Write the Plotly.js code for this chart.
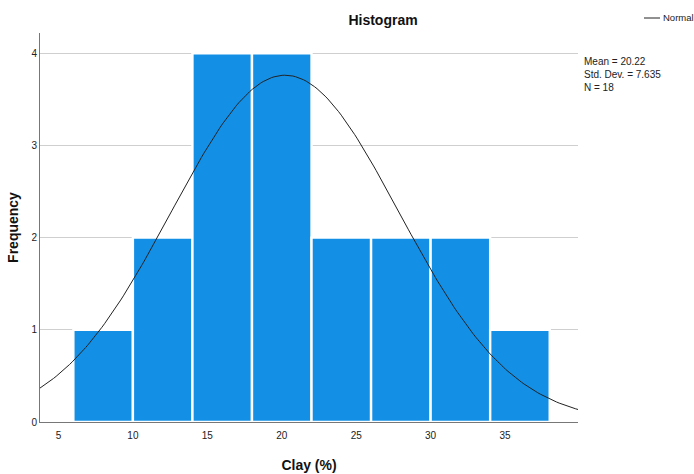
<!DOCTYPE html>
<html><head><meta charset="utf-8">
<script src="https://cdn.plot.ly/plotly-3.0.1.min.js"></script>
<style>body{margin:0;padding:0;background:#fff}#chart{width:694px;height:474px}</style>
</head><body><div id="chart"></div>
<script>
// Data
const binCenters = [8, 12, 16, 20, 24, 28, 32, 36];
const counts = [1, 2, 4, 4, 2, 2, 2, 1];
const binWidth = 4;
const stats = {mean: 20.22, sd: 7.635, n: 18};
const xTicks = [5, 10, 15, 20, 25, 30, 35];
const yTicks = [0, 1, 2, 3, 4];

const xRange = [3.76, 39.9];
// Fitted normal curve (scaled to frequency), from the reported mean / sd / N
const curveX = [], curveY = [];
for (let i = 0; i <= 200; i++) {
  const x = xRange[0] + (xRange[1] - xRange[0]) * i / 200;
  const z = (x - stats.mean) / stats.sd;
  curveX.push(x);
  curveY.push(stats.n * binWidth * Math.exp(-0.5 * z * z) / (stats.sd * Math.sqrt(2 * Math.PI)));
}

const font = 'Liberation Sans, Arial, sans-serif';
const W = 694, H = 474, L = 40, R = 116, T = 33, B = 52;
const pw = W - L - R, ph = H - T - B;
const px = v => (v - L) / pw;          // pixel -> paper x
const py = v => (H - B - v) / ph;      // pixel -> paper y

const traces = [
  {type: 'bar', x: binCenters, y: counts, width: binWidth,
   marker: {color: '#1390e6', line: {color: '#ffffff', width: 2.4}},
   showlegend: false, hoverinfo: 'x+y'},
  {type: 'scatter', mode: 'lines', x: curveX, y: curveY, name: 'Normal',
   line: {color: '#222222', width: 1}, showlegend: false}
];
const layout = {
  width: W, height: H,
  margin: {l: L, r: R, t: T, b: B, autoexpand: false},
  paper_bgcolor: '#fff', plot_bgcolor: '#fff',
  font: {family: font, size: 10, color: '#222'},
  bargap: 0,
  showlegend: false,
  xaxis: {range: xRange, tickvals: xTicks, ticktext: xTicks.map(String),
    showgrid: false, zeroline: false, showline: true, linecolor: '#777', linewidth: 1,
    ticks: '', ticklen: 0, ticklabelstandoff: 4, tickfont: {size: 10, color: '#222'}, automargin: false,
    title: {text: 'Clay (%)', font: {size: 14, color: '#111', family: font, weight: 'bold'}, standoff: 20}},
  yaxis: {range: [0, 4.22], tickvals: yTicks, ticktext: yTicks.map(String),
    showgrid: true, gridcolor: '#cfcfcf', gridwidth: 1, zeroline: false,
    showline: true, linecolor: '#777', linewidth: 1, ticks: '', ticklen: 0,
    tickfont: {size: 10, color: '#222'}, automargin: false,
    title: {text: 'Frequency', font: {size: 14, color: '#111', family: font, weight: 'bold'}, standoff: 9}},
  title: {text: 'Histogram', x: 383 / W, xanchor: 'center', y: 1 - 20 / H, yanchor: 'middle',
    font: {size: 14, color: '#111', family: font, weight: 'bold'}},
  shapes: [{type: 'line', xref: 'paper', yref: 'paper', x0: px(644), x1: px(660), y0: py(18), y1: py(18),
    line: {color: '#222', width: 1}}],
  annotations: [
    {xref: 'paper', yref: 'paper', x: px(661), y: py(18), xanchor: 'left', yanchor: 'middle',
     showarrow: false, text: 'Normal', font: {size: 9.5, color: '#222', family: font}},
    {xref: 'paper', yref: 'paper', x: px(582), y: py(54), xanchor: 'left', yanchor: 'top',
    align: 'left', showarrow: false,
    text: 'Mean = ' + stats.mean.toFixed(2) + '<br>Std. Dev. = ' + stats.sd.toFixed(3) + '<br>N = ' + stats.n,
    font: {size: 10, color: '#222', family: font, lineheight: 0.95}}]
};
Plotly.newPlot('chart', traces, layout, {displayModeBar: false, staticPlot: true});
</script></body></html>
